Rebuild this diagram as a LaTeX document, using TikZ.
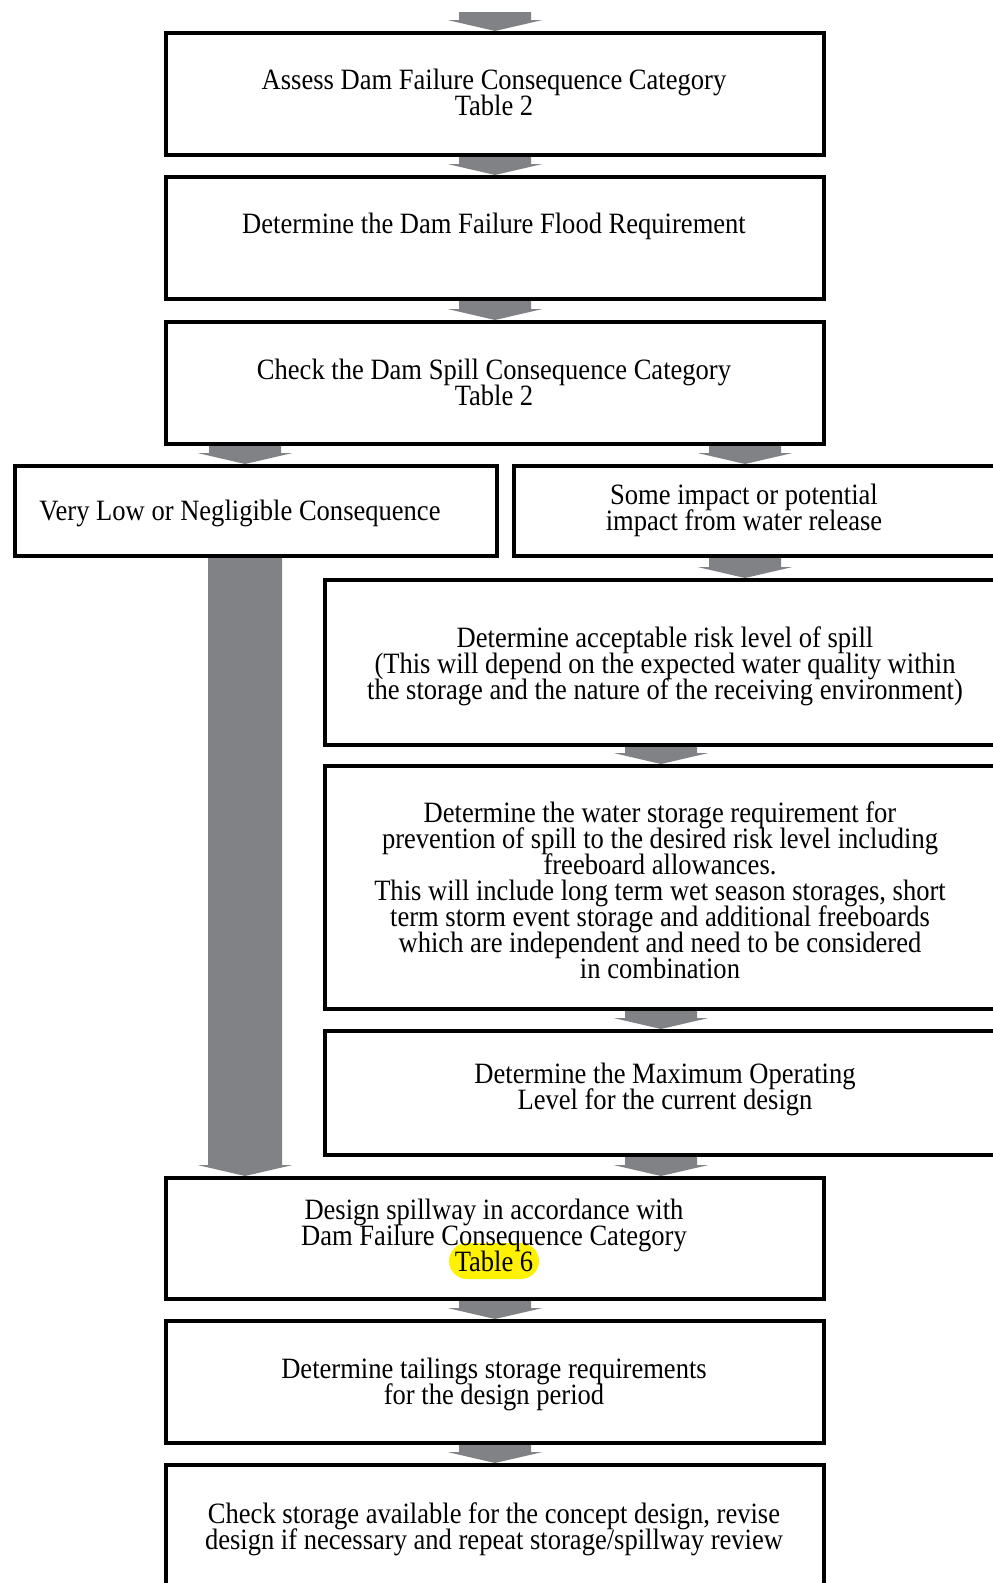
\documentclass[tikz,border=0pt]{standalone}
\usepackage{fontspec}
\setmainfont[FakeStretch=0.9]{Liberation Serif}
\usetikzlibrary{calc}
\definecolor{arrowgray}{RGB}{128,130,133}
\definecolor{hlyellow}{RGB}{255,242,0}
\newcommand\boxfont{\fontsize{29.5}{26}\selectfont\lineskiplimit=-30pt\relax\lineskip=0pt\relax}
\newcommand\blockarrow[3]{%
  \fill[arrowgray] ($(#1)+(-#3,0)$) -- ($(#1)+(#3,0)$) -- ($(#2)+(#3,-11)$) -- ($(#2)+(47.5,-11)$) -- (#2) -- ($(#2)+(-47.5,-11)$) -- ($(#2)+(-#3,-11)$) -- cycle;}
\begin{document}
\begin{tikzpicture}[x=1pt,y=-1pt,
  box/.style={draw=black, line width=4pt, inner sep=0pt},
  txt/.style={align=center, font=\boxfont, inner sep=0pt},
  hl/.style={fill=hlyellow, rounded corners=18pt, minimum width=90pt, minimum height=36pt, inner sep=0pt}]
\useasboundingbox (0,0) rectangle (993,1583);
\clip (0,0) rectangle (993,1583);
% boxes
\node[box, minimum width=658, minimum height=122] (B1) at (495,94) {};
\node[box, minimum width=658, minimum height=122] (B2) at (495,238) {};
\node[box, minimum width=658, minimum height=122] (B3) at (495,383) {};
\node[box, minimum width=482, minimum height=90] (VL) at (256,511) {};
\node[box, minimum width=496, minimum height=90] (SI) at (762,511) {};
\node[box, minimum width=685, minimum height=165] (ACC) at (667.5,662.5) {};
\node[box, minimum width=685, minimum height=243] (WS) at (667.5,887.5) {};
\node[box, minimum width=685, minimum height=124] (MO) at (667.5,1093) {};
\node[box, minimum width=658, minimum height=121] (DS) at (495,1238.5) {};
\node[box, minimum width=658, minimum height=122] (TL) at (495,1382) {};
\node[box, minimum width=658, minimum height=200] (CS) at (495,1565) {};
% highlight
\node[hl] (HL) at (494,1261) {};
% texts
\node[txt] (T1) at (494,92.5) {Assess Dam Failure Consequence Category\\Table 2};
\node[txt] (T2) at (494,226) {Determine the Dam Failure Flood Requirement};
\node[txt] (T3) at (494,382.5) {Check the Dam Spill Consequence Category\\Table 2};
\node[txt] (TVL) at (240,513) {Very Low or Negligible Consequence};
\node[txt] (TSI) at (744,510) {Some impact or potential\\impact from water release};
\node[txt] (TACC) at (665,666) {Determine acceptable risk level of spill\\(This will depend on the expected water quality within\\the storage and the nature of the receiving environment)};
\node[txt] (TWS) at (660,890) {Determine the water storage requirement for\\prevention of spill to the desired risk level including\\freeboard allowances.\\This will include long term wet season storages, short\\term storm event storage and additional freeboards\\which are independent and need to be considered\\in combination};
\node[txt] (TMO) at (665,1089) {Determine the Maximum Operating\\Level for the current design};
\node[txt] (TDS) at (494,1235.5) {Design spillway in accordance with\\Dam Failure Consequence Category\\Table 6};
\node[txt] (TTL) at (494,1384) {Determine tailings storage requirements\\for the design period};
\node[txt] (TCS) at (494,1529) {Check storage available for the concept design, revise\\design if necessary and repeat storage/spillway review};
% connector end points
\coordinate (top) at (495,12);
\coordinate (aLs) at (245,0 |- B3.south);
\coordinate (aLe) at (245,0 |- VL.north);
\coordinate (aRs) at (745,0 |- B3.south);
\coordinate (aRe) at (745,0 |- SI.north);
\coordinate (sIs) at (745,0 |- SI.south);
\coordinate (sIe) at (745,0 |- ACC.north);
\coordinate (acS) at (661,0 |- ACC.south);
\coordinate (wsN) at (661,0 |- WS.north);
\coordinate (wsS) at (661,0 |- WS.south);
\coordinate (moN) at (661,0 |- MO.north);
\coordinate (moS) at (661,0 |- MO.south);
\coordinate (dsR) at (661,0 |- DS.north);
\coordinate (vlS) at (245,0 |- VL.south);
\coordinate (dsL) at (245,0 |- DS.north);
% connectors
\blockarrow{top}{B1.north}{36}
\blockarrow{B1.south}{B2.north}{36}
\blockarrow{B2.south}{B3.north}{36}
\blockarrow{aLs}{aLe}{36}
\blockarrow{aRs}{aRe}{36}
\blockarrow{sIs}{sIe}{36}
\blockarrow{acS}{wsN}{36}
\blockarrow{wsS}{moN}{36}
\blockarrow{moS}{dsR}{36}
\blockarrow{vlS}{dsL}{37}
\blockarrow{DS.south}{TL.north}{36}
\blockarrow{TL.south}{CS.north}{36}
\end{tikzpicture}
\end{document}
